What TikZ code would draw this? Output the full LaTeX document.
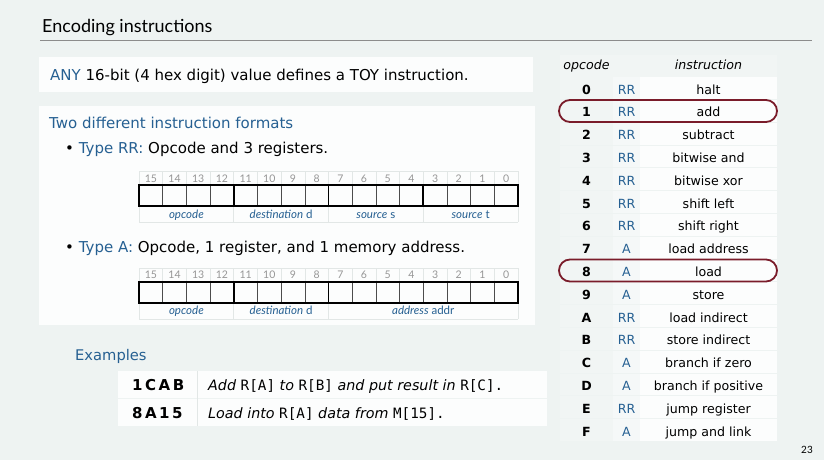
\documentclass[tikz,border=0pt]{standalone}
\usepackage{fontspec}
\setmainfont{DejaVu Sans}
\newfontfamily\lato{Lato}
\newfontfamily\codemono{DejaVu Sans Mono}
\definecolor{bg}{RGB}{238,243,242}
\definecolor{panel}{RGB}{252,253,253}
\definecolor{tblue}{RGB}{38,96,146}
\definecolor{hlred}{RGB}{122,28,42}
\definecolor{faint}{RGB}{226,231,230}
\definecolor{bitgray}{RGB}{150,150,150}
\definecolor{colA}{RGB}{241,245,244}
\definecolor{colB}{RGB}{245,248,248}
\begin{document}
\begin{tikzpicture}[x=1pt,y=-1pt,
  body/.style={anchor=base west,inner sep=0pt,font=\fontsize{15}{17}\selectfont},
  bitnum/.style={anchor=base,inner sep=0pt,text=bitgray,font=\lato\fontsize{10.5}{12}\selectfont},
  flabel/.style={anchor=base,inner sep=0pt,text=tblue,font=\lato\fontsize{11.5}{13}\selectfont},
  tcell/.style={anchor=base,inner sep=0pt,font=\fontsize{12.6}{14}\selectfont},
  hl/.style={draw=hlred,line width=1.8pt,rounded corners=11pt},
  thin/.style={line width=0.5pt,draw=black!70},
  thick/.style={line width=1.6pt,draw=black},
  fgrid/.style={line width=0.6pt,draw=faint}]
\fill[bg] (0,0) rectangle (824,460);
\useasboundingbox (0,0) rectangle (824,460);
% title
\node[anchor=base west,inner sep=0pt,font=\lato\fontsize{18}{20}\selectfont] (title) at (42,33) {Encoding instructions};
\draw[black!45,line width=0.8pt] (40,40) -- (812,40);
% panel 1
\fill[panel] (39,57) rectangle (533,92);
\node[body] (any) at (50,80) {\textcolor{tblue}{ANY} 16-bit (4 hex digit) value defines a TOY instruction.};
% panel 2
\fill[panel] (39,106) rectangle (535,325);
\node[body,text=tblue] (two) at (49,128) {Two different instruction formats};
\node[body] (rr) at (65,153) {\textbullet\ \textcolor{tblue}{Type RR:} Opcode and 3 registers.};
\node[body] (ta) at (65,252) {\textbullet\ \textcolor{tblue}{Type A:} Opcode, 1 register, and 1 memory address.};
% RR bit field
\def\cw{23.6875}
\foreach \i in {0,...,16}{
  \draw[fgrid] ({139+\i*\cw},171) -- ({139+\i*\cw},185);
}
\draw[fgrid] (139,171) -- (518,171);
\foreach \i in {0,...,15}{
  \pgfmathtruncatemacro{\b}{15-\i}
  \node[bitnum] (rb\b) at ({139+(\i+0.5)*\cw},182) {\b};
  \draw[thin] ({139+\i*\cw},185) -- ({139+\i*\cw},206);
}
\foreach \i in {0,4,8,12,16}{
  \draw[thick] ({139+\i*\cw},185) -- ({139+\i*\cw},206);
  \draw[fgrid] ({139+\i*\cw},206) -- ({139+\i*\cw},222);
}
\draw[fgrid] (139,222) -- (518,222);
\draw[thick] (139,185) rectangle (518,206);
\node[flabel] (rl1) at ({139+2*\cw},218) {\textit{opcode}};
\node[flabel] (rl2) at ({139+6*\cw},218) {\textit{destination} d};
\node[flabel] (rl3) at ({139+10*\cw},218) {\textit{source} s};
\node[flabel] (rl4) at ({139+14*\cw},218) {\textit{source} t};
% A bit field
\foreach \i in {0,...,16}{
  \draw[fgrid] ({139+\i*\cw},268) -- ({139+\i*\cw},282);
}
\draw[fgrid] (139,268) -- (518,268);
\foreach \i in {0,...,15}{
  \pgfmathtruncatemacro{\b}{15-\i}
  \node[bitnum] (ab\b) at ({139+(\i+0.5)*\cw},278) {\b};
  \draw[thin] ({139+\i*\cw},282) -- ({139+\i*\cw},303);
}
\foreach \i in {0,4,8,16}{
  \draw[thick] ({139+\i*\cw},282) -- ({139+\i*\cw},303);
  \draw[fgrid] ({139+\i*\cw},303) -- ({139+\i*\cw},319);
}
\draw[fgrid] (139,319) -- (518,319);
\draw[thick] (139,282) rectangle (518,303);
\node[flabel] (al1) at ({139+2*\cw},314) {\textit{opcode}};
\node[flabel] (al2) at ({139+6*\cw},314) {\textit{destination} d};
\node[flabel] (al3) at ({139+12*\cw},314) {\textit{address} addr};
% examples
\node[body,text=tblue,font=\fontsize{14.7}{17}\selectfont] (ex) at (75,360) {Examples};
\fill[panel] (118,371) rectangle (547,426);
\draw[bg,line width=1.2pt] (118,398.5) -- (547,398.5);
\draw[faint,line width=0.6pt] (197,371) -- (197,426);
\node[anchor=base west,inner sep=0pt,font=\fontsize{15}{17}\selectfont\bfseries] (e1c) at (132,390) {1\,C\,A\,B};
\node[anchor=base west,inner sep=0pt,font=\fontsize{15}{17}\selectfont\bfseries] (e2c) at (132,418) {8\,A\,1\,5};
\node[anchor=base west,inner sep=0pt,font=\fontsize{14.3}{16}\selectfont] (e1d) at (208,390) {\textit{Add} {\codemono R[A]} \textit{to} {\codemono R[B]} \textit{and put result in} {\codemono R[C].}};
\node[anchor=base west,inner sep=0pt,font=\fontsize{14.3}{16}\selectfont] (e2d) at (208,418) {\textit{Load into} {\codemono R[A]} \textit{data from} {\codemono M[15].}};
% opcode table
\fill[colA] (560,55) rectangle (777,441.4);
\fill[colB] (613,76.6) rectangle (640,441.4);
\fill[panel] (640,76.6) rectangle (777,441.4);
\foreach \k in {1,...,15}{
  \draw[bg,line width=0.8pt] (560,{76.6+22.8*\k}) -- (777,{76.6+22.8*\k});
}
\node[tcell,font=\fontsize{12.6}{14}\selectfont\itshape] (hop) at (586.5,70) {opcode};
\node[tcell,font=\fontsize{12.6}{14}\selectfont\itshape] (hin) at (708.5,70) {instruction};
\foreach \o/\t/\n [count=\k from 0] in {0/RR/halt,1/RR/add,2/RR/subtract,3/RR/bitwise and,4/RR/bitwise xor,5/RR/shift left,6/RR/shift right,7/A/load address,8/A/load,9/A/store,A/RR/load indirect,B/RR/store indirect,C/A/branch if zero,D/A/branch if positive,E/RR/jump register,F/A/jump and link}{
  \node[tcell,font=\fontsize{12.6}{14}\selectfont\bfseries] (op\o) at (586.5,{94+22.8*\k}) {\o};
  \node[tcell,text=tblue] (ty\o) at (626.5,{94+22.8*\k}) {\t};
  \node[tcell] (in\o) at (708.5,{94+22.8*\k}) {\n};
}
\draw[hl] (559,100) rectangle (777,122);
\draw[hl] (559,259.5) rectangle (777,281.5);
\node[anchor=base east,inner sep=0pt,font=\lato\fontsize{10}{12}\selectfont] (pg) at (813,453) {23};
\end{tikzpicture}
\end{document}
